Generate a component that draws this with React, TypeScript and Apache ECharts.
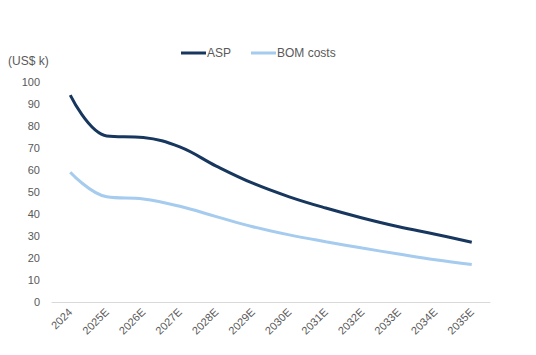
import React, { useEffect, useRef } from "react";
import * as echarts from "echarts";

const categories = ["2024", "2025E", "2026E", "2027E", "2028E", "2029E", "2030E", "2031E", "2032E", "2033E", "2034E", "2035E"];
const aspValues = [94, 75.5, 74.8, 70.5, 61.8, 54, 47.8, 42.7, 38.2, 34.2, 30.8, 27.2];
const bomValues = [59, 47.8, 46.8, 43.5, 38.8, 34.2, 30.5, 27.4, 24.5, 21.8, 19.2, 17];
const yTicks = { min: 0, max: 100, interval: 10 };

export default function App() {
  const ref = useRef<HTMLDivElement>(null);
  useEffect(() => {
    if (!ref.current) return;
    const chart = echarts.init(ref.current, undefined, { renderer: "svg" });
    const font = "Liberation Sans, Arial, sans-serif";
    chart.setOption({
      animation: false,
      backgroundColor: "#ffffff",
      textStyle: { fontFamily: font },
      legend: {
        top: 42,
        left: 176,
        itemWidth: 25,
        itemHeight: 3,
        itemGap: 20,
        icon: "rect",
        textStyle: { color: "#595959", fontSize: 12, fontFamily: font, padding: [0, 0, 0, -4] },
        data: ["ASP", "BOM costs"],
      },
      graphic: [
        {
          type: "text",
          left: 8,
          top: 55,
          style: { text: "(US$ k)", fill: "#595959", font: `12px ${font}` },
        },
      ],
      grid: { left: 52, right: 46, top: 82, bottom: 53, containLabel: false },
      xAxis: {
        type: "category",
        data: categories,
        boundaryGap: true,
        axisLine: { lineStyle: { color: "#d9d9d9", width: 1 } },
        axisTick: { show: false },
        axisLabel: { rotate: 45, color: "#595959", fontSize: 11, margin: 8, fontFamily: font },
      },
      yAxis: {
        type: "value",
        min: yTicks.min,
        max: yTicks.max,
        interval: yTicks.interval,
        axisLine: { show: false },
        axisTick: { show: false },
        splitLine: { show: false },
        axisLabel: { color: "#595959", fontSize: 11, margin: 12, fontFamily: font },
      },
      series: [
        {
          name: "ASP",
          type: "line",
          data: aspValues,
          smooth: 0.4,
          symbol: "none",
          lineStyle: { color: "#17375e", width: 3 },
          itemStyle: { color: "#17375e" },
        },
        {
          name: "BOM costs",
          type: "line",
          data: bomValues,
          smooth: 0.4,
          symbol: "none",
          lineStyle: { color: "#a5cbee", width: 3 },
          itemStyle: { color: "#a5cbee" },
        },
      ],
    });
    return () => chart.dispose();
  }, []);
  return <div ref={ref} style={{ width: 536, height: 355, position: "absolute", left: 0, top: 0 }} />;
}
